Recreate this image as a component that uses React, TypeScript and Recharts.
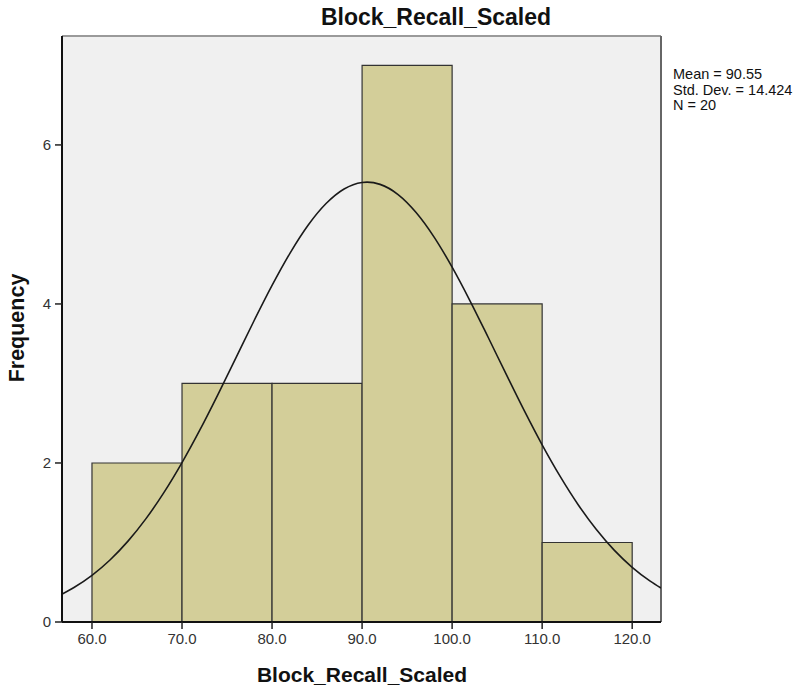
import React from "react";
import {
  ComposedChart,
  Line,
  XAxis,
  YAxis,
  CartesianGrid,
  ReferenceArea,
  ReferenceLine,
} from "recharts";

const binStarts = [60, 70, 80, 90, 100, 110];
const binEnds = [70, 80, 90, 100, 110, 120];
const binCounts = [2, 3, 3, 7, 4, 1];

const curveX = [
  56.7, 58, 60, 62, 64, 66, 68, 70, 72, 74, 76, 78, 80, 82, 84, 86, 88, 90, 90.55,
  92, 94, 96, 98, 100, 102, 104, 106, 108, 110, 112, 114, 116, 118, 120, 122, 123.2,
];
const curveY = [
  0.352, 0.434, 0.587, 0.78, 1.017, 1.3, 1.63, 2.005, 2.419, 2.864, 3.326, 3.789,
  4.233, 4.64, 4.99, 5.263, 5.446, 5.528, 5.532, 5.504, 5.376, 5.15, 4.841, 4.463,
  4.037, 3.581, 3.117, 2.661, 2.228, 1.831, 1.475, 1.166, 0.904, 0.688, 0.514, 0.427,
];

const xTicks = [60, 70, 80, 90, 100, 110, 120];
const yTicks = [0, 2, 4, 6];
const xMin = 56.67;
const xMax = 123.2;
const yMax = 7.37;
const statLines = ["Mean = 90.55", "Std. Dev. = 14.424", "N = 20"];
const title = "Block_Recall_Scaled";
const xLabel = "Block_Recall_Scaled";
const yLabel = "Frequency";

const curveData = curveX.map((x, i) => ({ x, y: curveY[i] }));

const FONT = "'Liberation Sans', Arial, sans-serif";

export default function App() {
  return (
    <div style={{ position: "absolute", left: 0, top: 0, width: 800, height: 693, background: "#fff", fontFamily: FONT }}>
      <ComposedChart
        width={800}
        height={693}
        data={curveData}
        margin={{ top: 36, right: 139, left: 0, bottom: 0 }}
      >
        <CartesianGrid fill="#f0f0f0" horizontal={false} vertical={false} stroke="none" />
        {binStarts.map((s, i) => (
          <ReferenceArea
            key={s}
            x1={s}
            x2={binEnds[i]}
            y1={0}
            y2={binCounts[i]}
            fill="#d3ce99"
            fillOpacity={1}
            stroke="#333"
            strokeWidth={1.2}
            ifOverflow="visible"
          />
        ))}
        <ReferenceLine y={yMax} stroke="#9a9a9a" strokeWidth={2} ifOverflow="visible" />
        <ReferenceLine x={xMax} stroke="#666" strokeWidth={2} ifOverflow="visible" />
        <XAxis
          dataKey="x"
          type="number"
          domain={[xMin, xMax]}
          allowDataOverflow
          ticks={xTicks}
          tickFormatter={(v: number) => v.toFixed(1)}
          height={71}
          tick={{ fill: "#333", fontSize: 15, fontFamily: FONT }}
          tickLine={{ stroke: "#222", strokeWidth: 1.5 }}
          tickSize={7}
          tickMargin={4}
          axisLine={{ stroke: "#111", strokeWidth: 2 }}
        />
        <YAxis
          type="number"
          domain={[0, yMax]}
          allowDataOverflow
          ticks={yTicks}
          width={62}
          tick={{ fill: "#333", fontSize: 15, fontFamily: FONT }}
          tickLine={{ stroke: "#222", strokeWidth: 1.5 }}
          tickSize={7}
          tickMargin={4}
          axisLine={{ stroke: "#111", strokeWidth: 2 }}
        />
        <Line
          type="monotone"
          dataKey="y"
          stroke="#1a1a1a"
          strokeWidth={1.6}
          dot={false}
          activeDot={false}
          isAnimationActive={false}
        />
      </ComposedChart>
      <div style={{ position: "absolute", left: 236, width: 400, top: 5.5, textAlign: "center", fontSize: 23, lineHeight: 1, fontWeight: "bold", color: "#111", whiteSpace: "nowrap" }}>
        {title}
      </div>
      <div style={{ position: "absolute", left: 162, width: 400, top: 664, textAlign: "center", fontSize: 21, lineHeight: 1, fontWeight: "bold", color: "#111", whiteSpace: "nowrap" }}>
        {xLabel}
      </div>
      <div style={{ position: "absolute", left: 18, top: 328, width: 0, height: 0 }}>
        <div style={{ position: "absolute", transform: "translate(-50%,-50%) rotate(-90deg)", fontSize: 21.5, lineHeight: 1, fontWeight: "bold", color: "#111", whiteSpace: "nowrap" }}>
          {yLabel}
        </div>
      </div>
      <div style={{ position: "absolute", left: 673, top: 67, fontSize: 14.5, lineHeight: "15.5px", color: "#111", whiteSpace: "nowrap" }}>
        {statLines.map((s) => (
          <div key={s}>{s}</div>
        ))}
      </div>
    </div>
  );
}
